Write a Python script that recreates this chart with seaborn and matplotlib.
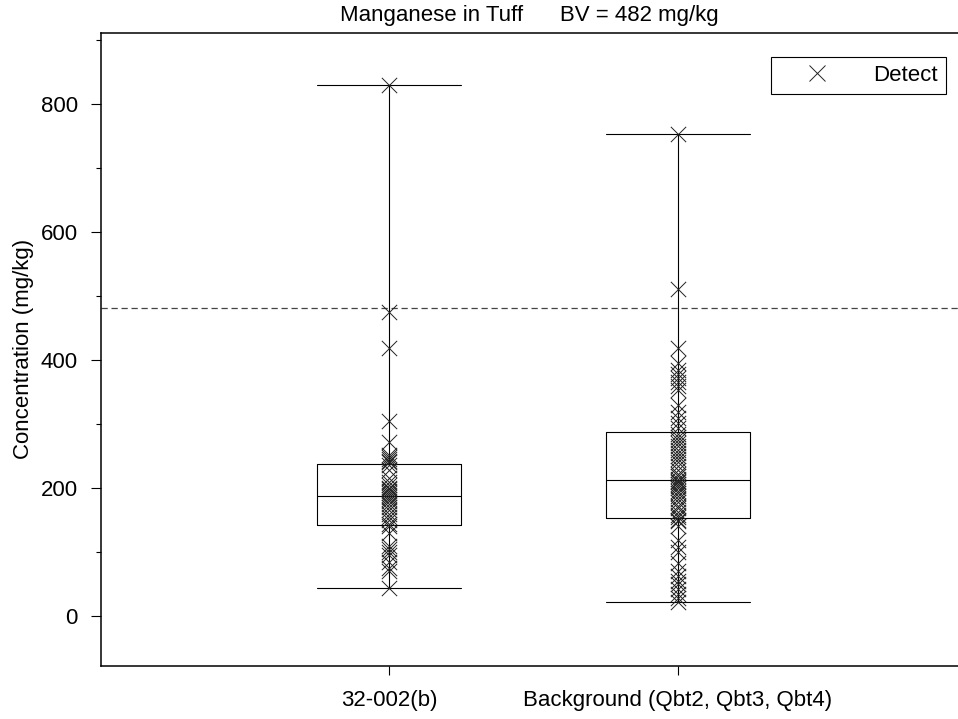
import numpy as np
import pandas as pd
import seaborn as sns
import matplotlib.pyplot as plt
from matplotlib.lines import Line2D

sns.set_style('ticks')
plt.rcParams['font.family'] = ['Liberation Sans', 'DejaVu Sans']
plt.rcParams['font.size'] = 16
for key in ['text.color', 'axes.labelcolor', 'xtick.color', 'ytick.color']:
    plt.rcParams[key] = 'black'

# detected concentrations (mg/kg)
site_vals = [44, 70, 75, 85, 95, 100, 105, 110, 130, 140,
             143, 150, 155, 160, 165, 170, 175, 180, 183, 186,
             189, 192, 195, 198, 200, 205, 210, 215, 228, 236,
             240, 242, 245, 248, 252, 272, 305, 418, 475, 830]
bkg_vals = [22, 28, 35, 42, 50, 55, 62, 70, 83, 100,
            108, 118, 140, 148, 150, 154, 158, 162, 168, 172,
            178, 183, 188, 192, 196, 200, 203, 206, 209, 211,
            214, 218, 222, 228, 235, 240, 245, 250, 255, 260,
            265, 270, 275, 280, 285, 293, 301, 310, 318, 330,
            353, 360, 365, 372, 378, 385, 395, 419, 511, 753]
groups = ['32-002(b)', 'Background (Qbt2, Qbt3, Qbt4)']
bv = 482

df = pd.DataFrame({
    'group': [groups[0]] * len(site_vals) + [groups[1]] * len(bkg_vals),
    'conc': site_vals + bkg_vals,
})

fig = plt.figure(figsize=(9.58, 7.19), dpi=100)
ax = fig.add_axes([0.105, 0.074, 0.895, 0.880])

line_kw = dict(color='black', linewidth=0.8)
sns.boxplot(data=df, x='group', y='conc', order=groups, ax=ax,
            whis=(0, 100), width=0.5, fill=False, showfliers=False,
            boxprops=line_kw, whiskerprops=line_kw, capprops=line_kw,
            medianprops=line_kw, capwidths=0.5)
sns.stripplot(data=df, x='group', y='conc', order=groups, ax=ax,
              jitter=False, marker='x', size=11, color='#222222',
              linewidth=0.7, zorder=3)

ax.axhline(bv, color='#444444', linewidth=0.9, linestyle=(0, (5, 3)))

ax.set_xlim(-1.0, 1.97)
ax.set_ylim(-78, 911)
ax.set_yticks([0, 200, 400, 600, 800])
ax.set_yticks([100, 300, 500, 700, 900], minor=True)
ax.tick_params(axis='y', which='major', length=7.5, width=0.8, pad=9)
ax.tick_params(axis='y', which='minor', length=3.8, width=0.8)
ax.tick_params(axis='x', length=6.5, width=0.8, pad=11)
ax.set_xlabel('')
ax.set_ylabel('Concentration (mg/kg)', labelpad=5)
ax.set_title('Manganese in Tuff      BV = 482 mg/kg', pad=9, fontsize=16)

for side in ['left', 'top', 'bottom']:
    ax.spines[side].set_linewidth(1.1)
    ax.spines[side].set_color('black')
ax.spines['right'].set_visible(False)

handle = Line2D([], [], marker='x', linestyle='none', color='#222222',
                markersize=11, markeredgewidth=0.7)
ax.legend([handle], ['Detect'], loc='upper right',
          bbox_to_anchor=(0.986, 0.962), fancybox=False, edgecolor='black',
          framealpha=1, borderpad=0.35, handlelength=3.4, handletextpad=0.85,
          borderaxespad=0)
ax.get_legend().get_frame().set_linewidth(0.8)

fig.savefig('out.png', dpi=100)
